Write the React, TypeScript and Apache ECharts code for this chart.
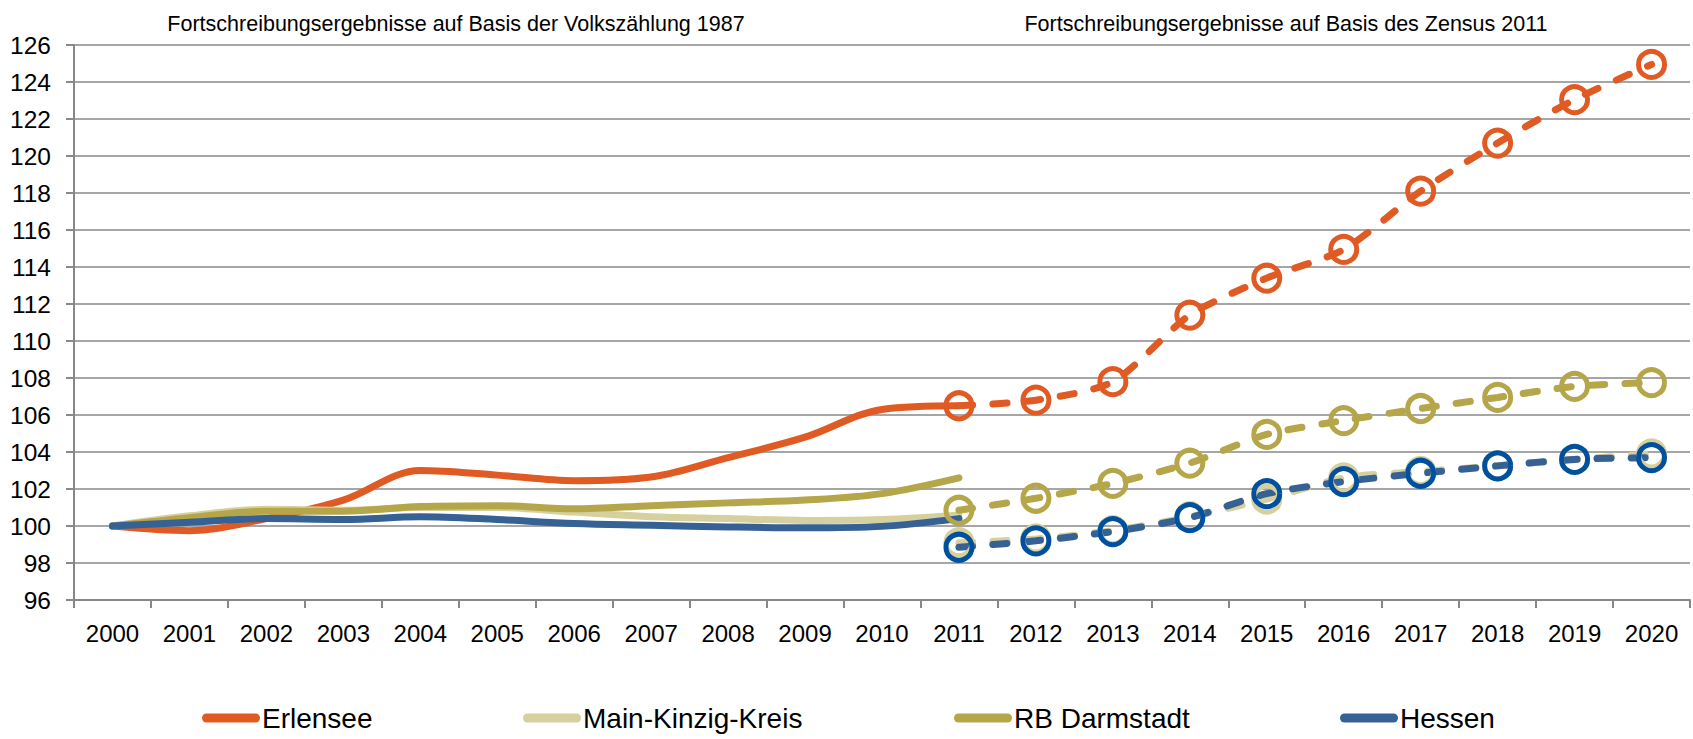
import React, { useEffect, useRef } from "react";
import * as echarts from "echarts";

const years = ["2000","2001","2002","2003","2004","2005","2006","2007","2008","2009","2010","2011","2012","2013","2014","2015","2016","2017","2018","2019","2020"];

// Fortschreibung auf Basis der Volkszählung 1987 (2000–2011)
const erlenseeVZ = [100, 99.75, 100.4, 101.4, 103.0, 102.75, 102.45, 102.65, 103.7, 104.8, 106.3, 106.5];
const mkkVZ = [100, 100.55, 100.9, 100.85, 101.0, 101.0, 100.75, 100.5, 100.4, 100.3, 100.35, 100.6];
const rbVZ = [100, 100.45, 100.8, 100.8, 101.05, 101.1, 100.93, 101.1, 101.25, 101.4, 101.75, 102.6];
const hessenVZ = [100, 100.2, 100.4, 100.35, 100.5, 100.35, 100.13, 100.04, 99.95, 99.9, 99.98, 100.4];

// Fortschreibung auf Basis des Zensus 2011 (2011–2020)
const erlenseeZ = [106.5, 106.8, 107.8, 111.4, 113.4, 114.95, 118.1, 120.7, 123.05, 124.95];
const mkkZ = [99.1, 99.3, 99.75, 100.5, 101.45, 102.6, 102.95, 103.25, 103.6, 103.9];
const rbZ = [100.85, 101.5, 102.3, 103.4, 104.95, 105.7, 106.35, 106.95, 107.55, 107.75];
const hessenZ = [98.85, 99.2, 99.7, 100.45, 101.75, 102.4, 102.85, 103.25, 103.6, 103.7];

const seriesNames = ["Erlensee", "Main-Kinzig-Kreis", "RB Darmstadt", "Hessen"];
const titleLeft = "Fortschreibungsergebnisse auf Basis der Volkszählung 1987";
const titleRight = "Fortschreibungsergebnisse auf Basis des Zensus 2011";

const FONT = '"Liberation Sans", Arial, sans-serif';

const lineColors = ["#E05A24", "#D6D09E", "#B5A64A", "#356195"];
const markerColors = ["#E05A24", "#D6D09E", "#B5A64A", "#0050A0"];
const legendLefts = [202, 523, 954, 1340];

export default function App() {
  const ref = useRef<HTMLDivElement>(null);
  useEffect(() => {
    if (!ref.current) return;
    const chart = echarts.init(ref.current, null, { renderer: "svg" });
    const vz = [erlenseeVZ, mkkVZ, rbVZ, hessenVZ];
    const zs = [erlenseeZ, mkkZ, rbZ, hessenZ];
    const nVZ = erlenseeVZ.length;
    const startZ = years.length - erlenseeZ.length;
    const padVZ = (a: number[]) => years.map((_, i) => (i < nVZ ? a[i] : null));
    const padZ = (a: number[]) => years.map((_, i) => (i >= startZ ? a[i - startZ] : null));

    const solid = seriesNames.map((name, k) => ({
      name,
      type: "line",
      data: padVZ(vz[k]),
      smooth: 0.35,
      symbol: "none",
      showSymbol: false,
      itemStyle: { color: lineColors[k] },
      lineStyle: { color: lineColors[k], width: 7, cap: "round" },
      z: 2,
    }));
    const dashed = seriesNames.map((name, k) => ({
      name: name + " (Zensus 2011)",
      type: "line",
      data: padZ(zs[k]),
      smooth: 0.25,
      symbol: "circle",
      symbolSize: 26,
      showSymbol: true,
      itemStyle: { color: "rgba(255,255,255,0)", borderColor: markerColors[k], borderWidth: 5 },
      lineStyle: { color: lineColors[k], width: 7, type: [14, 20], cap: "round" },
      z: 3,
    }));

    const legends = seriesNames.map((name, k) => ({
      data: [name],
      left: legendLefts[k],
      top: 703,
      orient: "horizontal",
      padding: 0,
      itemWidth: 58,
      itemHeight: 9,
      icon: "path://M4.5,0 H53.5 A4.5,4.5 0 0 1 53.5,9 H4.5 A4.5,4.5 0 0 1 4.5,0 Z",
      selectedMode: false,
      textStyle: { fontFamily: FONT, fontSize: 28, color: "#000", lineHeight: 30, padding: [0, 0, 0, -3] },
    }));

    chart.setOption({
      animation: false,
      backgroundColor: "#fff",
      grid: { left: 74, right: 3, top: 45, bottom: 139, containLabel: false },
      legend: legends,
      graphic: [
        {
          type: "text",
          x: 456,
          y: 24,
          style: { text: titleLeft, fontFamily: FONT, fontSize: 21.5, fill: "#000", textAlign: "center", textVerticalAlign: "middle" },
        },
        {
          type: "text",
          x: 1286,
          y: 24,
          style: { text: titleRight, fontFamily: FONT, fontSize: 21.5, fill: "#000", textAlign: "center", textVerticalAlign: "middle" },
        },
      ],
      xAxis: {
        type: "category",
        data: years,
        boundaryGap: true,
        axisLine: { show: true, lineStyle: { color: "#888", width: 2 } },
        axisTick: { show: true, length: 8, interval: 0, lineStyle: { color: "#888", width: 2 } },
        axisLabel: { fontFamily: FONT, fontSize: 24, color: "#000", margin: 21, interval: 0 },
        splitLine: { show: false },
      },
      yAxis: {
        type: "value",
        min: 96,
        max: 126,
        interval: 2,
        axisLine: { show: true, lineStyle: { color: "#888", width: 2 } },
        axisTick: { show: true, length: 8, lineStyle: { color: "#888", width: 2 } },
        axisLabel: { fontFamily: FONT, fontSize: 24.5, color: "#000", margin: 23 },
        splitLine: { show: true, lineStyle: { color: "#A6A6A6", width: 2 } },
      },
      series: [...solid, ...dashed],
    });
    return () => chart.dispose();
  }, []);
  return (
    <div
      ref={ref}
      style={{ position: "fixed", left: 0, top: 0, width: 1693, height: 739, background: "#fff" }}
    />
  );
}
